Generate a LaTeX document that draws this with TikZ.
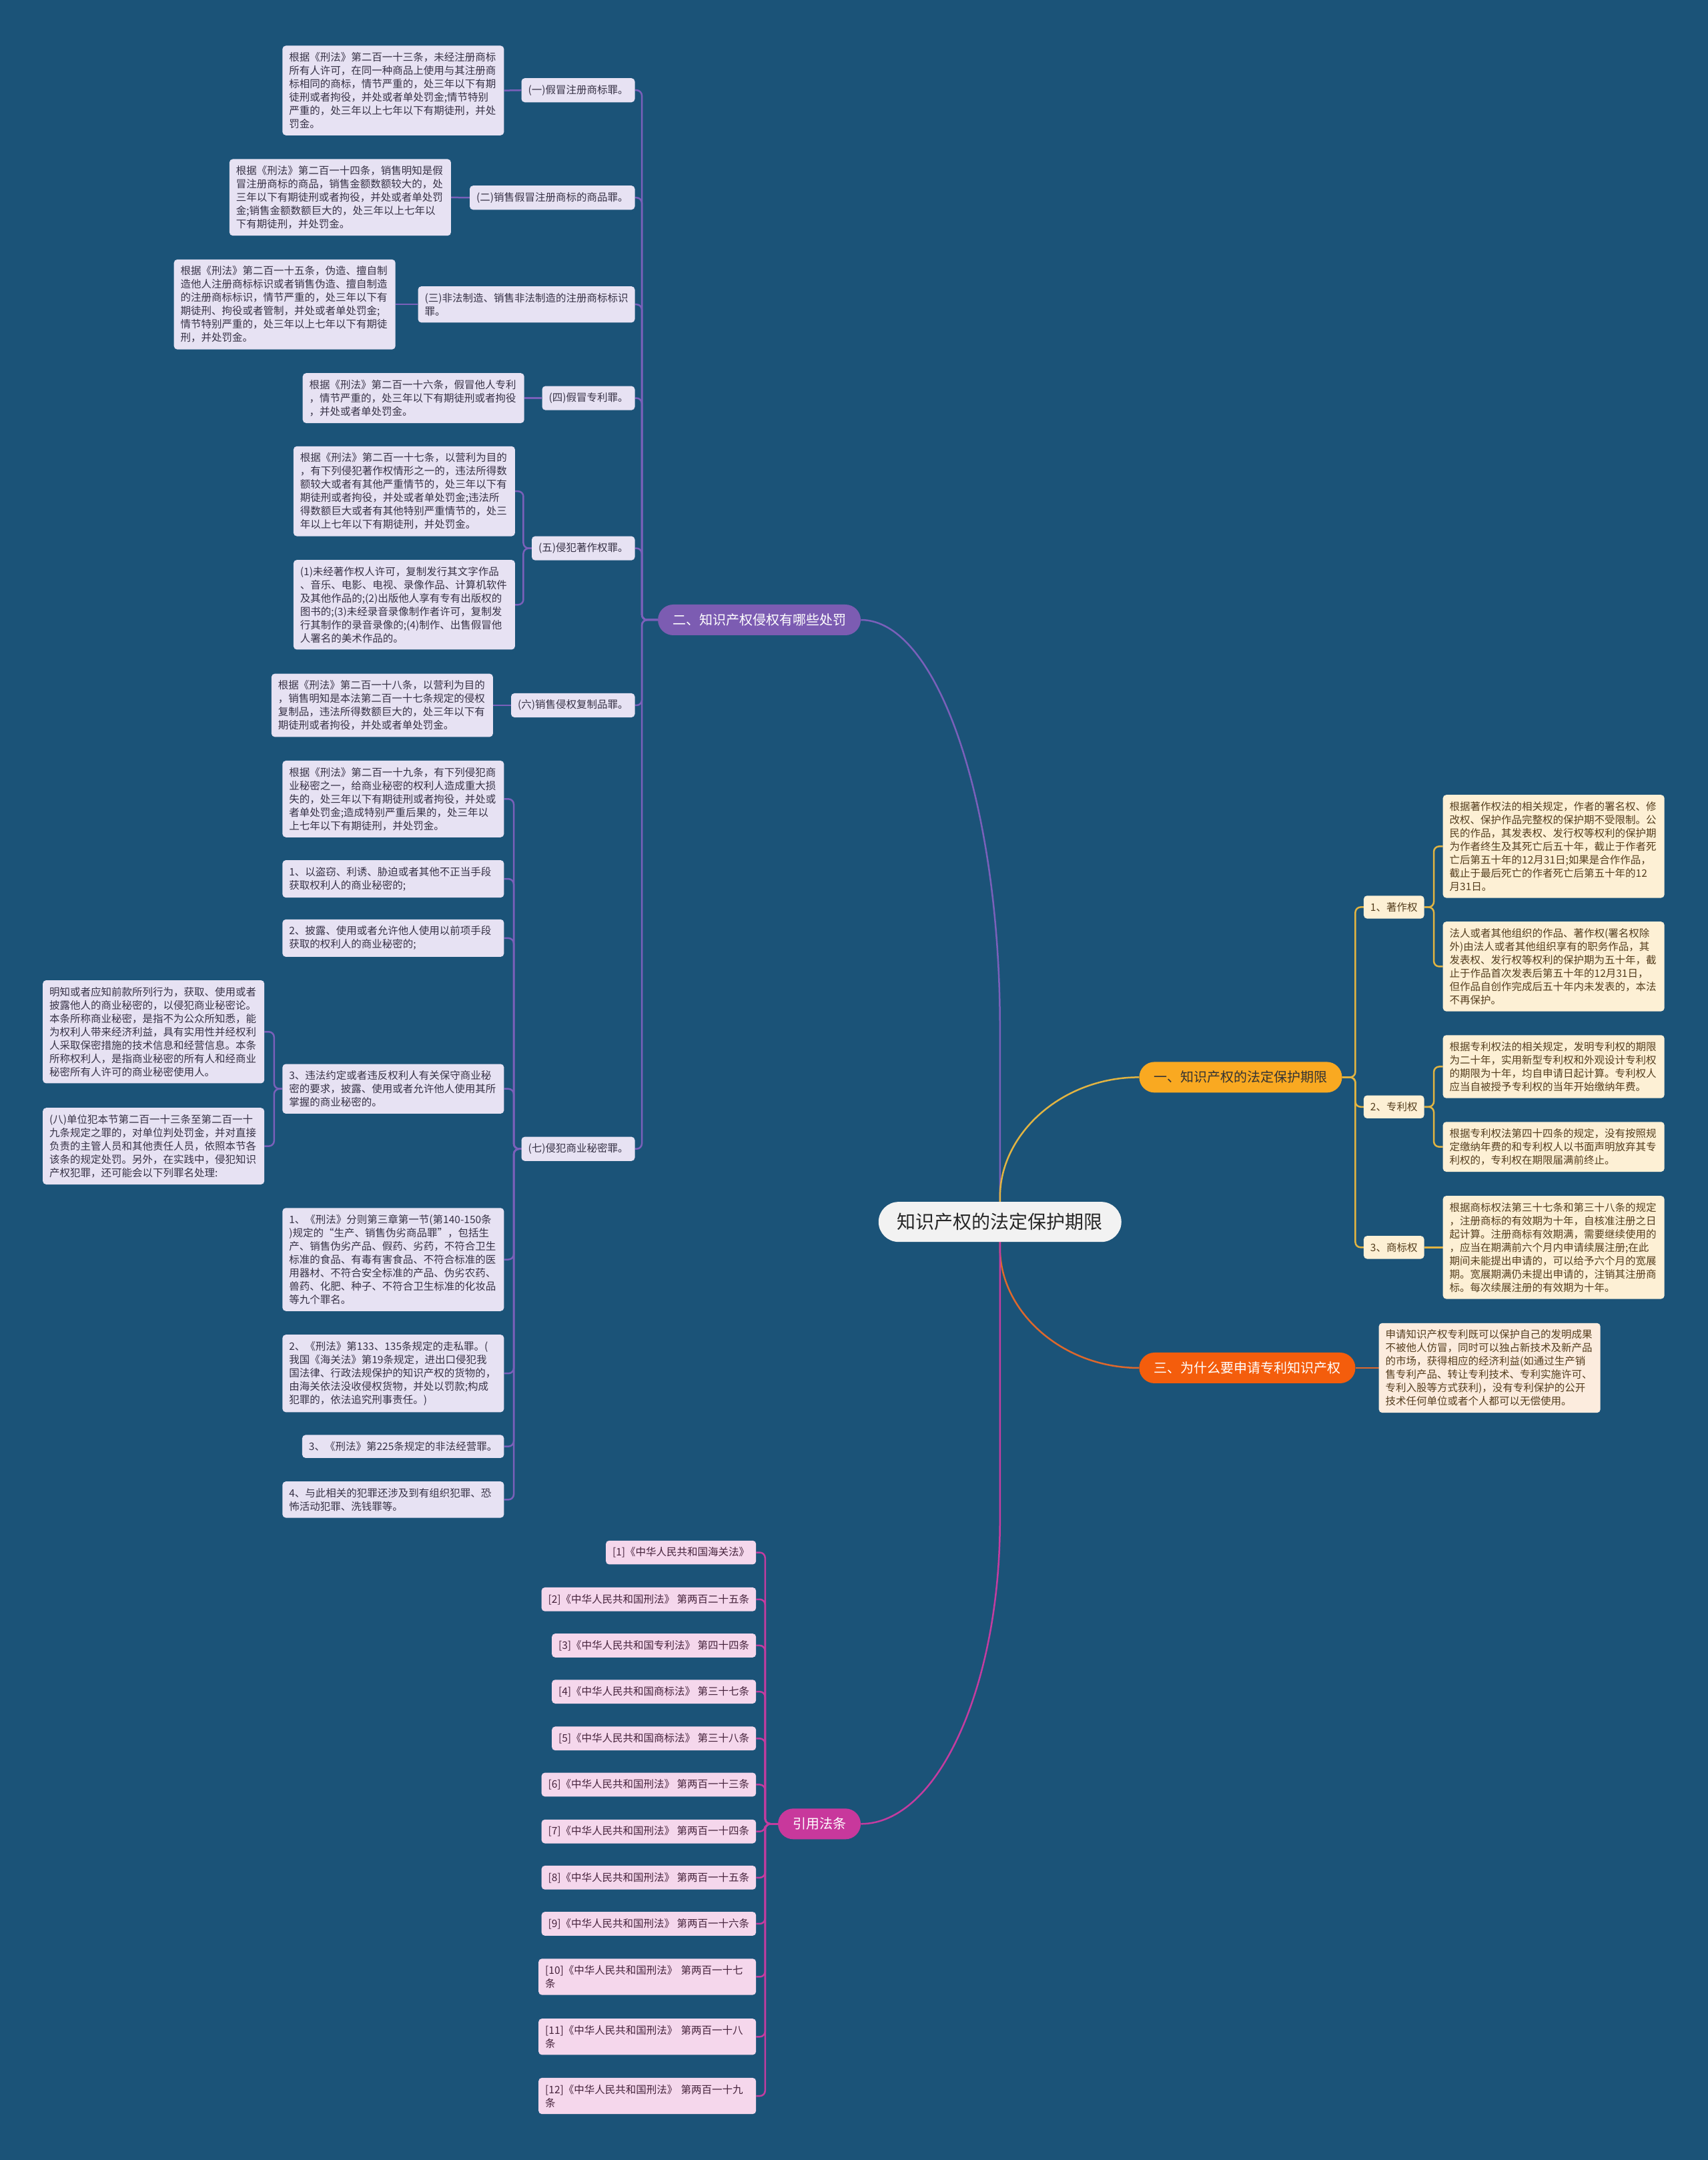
\documentclass[tikz,border=0pt]{standalone}
\usepackage{fontspec}
\setmainfont{Noto Sans CJK SC}
\usetikzlibrary{backgrounds}
\definecolor{bgc}{RGB}{27,83,120}
\definecolor{pfill}{RGB}{231,226,243}
\definecolor{ptxt}{RGB}{55,50,70}
\definecolor{plinec}{RGB}{122,96,186}
\definecolor{pmain}{RGB}{124,92,178}
\definecolor{gfill}{RGB}{249,169,33}
\definecolor{glinec}{RGB}{226,180,66}
\definecolor{cfill}{RGB}{253,240,213}
\definecolor{ctxt}{RGB}{85,62,30}
\definecolor{ofill}{RGB}{244,93,12}
\definecolor{olinec}{RGB}{222,104,44}
\definecolor{ocream}{RGB}{252,236,222}
\definecolor{mfill}{RGB}{200,56,156}
\definecolor{mlinec}{RGB}{196,60,160}
\definecolor{mleaf}{RGB}{245,215,236}
\definecolor{mtxt}{RGB}{70,35,60}
\definecolor{rootfill}{RGB}{242,242,242}
\newcommand\myfs{\fontsize{15.5pt}{20pt}\selectfont}
\tikzset{
  box/.style={rounded corners=5pt, inner xsep=10pt, inner ysep=10pt, align=left, font=\myfs},
  pbox/.style={box, fill=pfill, text=ptxt},
  pleaf/.style={pbox, text width=312pt},
  cbox/.style={box, fill=cfill, text=ctxt},
  cleaf/.style={cbox, text width=312pt},
  oleaf/.style={box, fill=ocream, text=ctxt, text width=312pt},
  mbox/.style={box, fill=mleaf, text=mtxt},
  mwide/.style={mbox, text width=306pt},
  pill/.style={rounded corners=23pt, minimum height=46pt, inner xsep=22pt, inner ysep=0pt, font=\fontsize{20pt}{24pt}\selectfont},
  pl/.style={draw=plinec, line width=2.5pt, rounded corners=8pt},
  gl/.style={draw=glinec, line width=2.5pt, rounded corners=8pt},
  ol/.style={draw=olinec, line width=2.5pt, rounded corners=8pt},
  ml/.style={draw=mlinec, line width=2.5pt, rounded corners=8pt}
}
\begin{document}
\begin{tikzpicture}[x=2.0645pt,y=-2.0645pt]
\useasboundingbox (0,0) rectangle (1240,1568);

% root and main branches
\node[fill=rootfill, text=black!85, rounded corners=30pt, minimum height=60pt, inner xsep=28pt, inner ysep=0pt, font=\fontsize{28pt}{32pt}\selectfont] (root) at (726,887) {知识产权的法定保护期限};
\node[pill, fill=pmain, text=white, anchor=east] (b2) at (625,450) {二、知识产权侵权有哪些处罚};
\node[pill, fill=gfill, text=black!80, anchor=west] (b1) at (827,782) {一、知识产权的法定保护期限};
\node[pill, fill=ofill, text=white, anchor=west] (b3) at (827,993) {三、为什么要申请专利知识产权};
\node[pill, fill=mfill, text=white, anchor=east] (br) at (625,1324) {引用法条};

% left level 2
\node[pbox, anchor=east] (k1) at (461,65.5) {(一)假冒注册商标罪。};
\node[pbox, anchor=east] (k2) at (461,143.5) {(二)销售假冒注册商标的商品罪。};
\node[pbox, anchor=east] (k3) at (461,221) {(三)非法制造、销售非法制造的注册商标标识\\罪。};
\node[pbox, anchor=east] (k4) at (461,289) {(四)假冒专利罪。};
\node[pbox, anchor=east] (k5) at (461,398) {(五)侵犯著作权罪。};
\node[pbox, anchor=east] (k6) at (461,512) {(六)销售侵权复制品罪。};
\node[pbox, anchor=east] (k7) at (461,834) {(七)侵犯商业秘密罪。};

% left leaves
\node[pleaf, anchor=east] (l1) at (366,65.7) {根据《刑法》第二百一十三条，未经注册商标\\所有人许可，在同一种商品上使用与其注册商\\标相同的商标，情节严重的，处三年以下有期\\徒刑或者拘役，并处或者单处罚金;情节特别\\严重的，处三年以上七年以下有期徒刑，并处\\罚金。};
\node[pleaf, anchor=east] (l2) at (327.5,143.3) {根据《刑法》第二百一十四条，销售明知是假\\冒注册商标的商品，销售金额数额较大的，处\\三年以下有期徒刑或者拘役，并处或者单处罚\\金;销售金额数额巨大的，处三年以上七年以\\下有期徒刑，并处罚金。};
\node[pleaf, anchor=east] (l3) at (287.2,221) {根据《刑法》第二百一十五条，伪造、擅自制\\造他人注册商标标识或者销售伪造、擅自制造\\的注册商标标识，情节严重的，处三年以下有\\期徒刑、拘役或者管制，并处或者单处罚金;\\情节特别严重的，处三年以上七年以下有期徒\\刑，并处罚金。};
\node[pleaf, anchor=east] (l4) at (380.7,289) {根据《刑法》第二百一十六条，假冒他人专利\\，情节严重的，处三年以下有期徒刑或者拘役\\，并处或者单处罚金。};
\node[pleaf, anchor=east] (l5a) at (374,356.6) {根据《刑法》第二百一十七条，以营利为目的\\，有下列侵犯著作权情形之一的，违法所得数\\额较大或者有其他严重情节的，处三年以下有\\期徒刑或者拘役，并处或者单处罚金;违法所\\得数额巨大或者有其他特别严重情节的，处三\\年以上七年以下有期徒刑，并处罚金。};
\node[pleaf, anchor=east] (l5b) at (374,439) {(1)未经著作权人许可，复制发行其文字作品\\、音乐、电影、电视、录像作品、计算机软件\\及其他作品的;(2)出版他人享有专有出版权的\\图书的;(3)未经录音录像制作者许可，复制发\\行其制作的录音录像的;(4)制作、出售假冒他\\人署名的美术作品的。};
\node[pleaf, anchor=east] (l6) at (358,512) {根据《刑法》第二百一十八条，以营利为目的\\，销售明知是本法第二百一十七条规定的侵权\\复制品，违法所得数额巨大的，处三年以下有\\期徒刑或者拘役，并处或者单处罚金。};
\node[pleaf, anchor=east] (l7a) at (366,580) {根据《刑法》第二百一十九条，有下列侵犯商\\业秘密之一，给商业秘密的权利人造成重大损\\失的，处三年以下有期徒刑或者拘役，并处或\\者单处罚金;造成特别严重后果的，处三年以\\上七年以下有期徒刑，并处罚金。};
\node[pleaf, anchor=east] (l7b) at (366,638) {1、以盗窃、利诱、胁迫或者其他不正当手段\\获取权利人的商业秘密的;};
\node[pleaf, anchor=east] (l7c) at (366,681) {2、披露、使用或者允许他人使用以前项手段\\获取的权利人的商业秘密的;};
\node[pleaf, anchor=east] (l7d) at (366,790.4) {3、违法约定或者违反权利人有关保守商业秘\\密的要求，披露、使用或者允许他人使用其所\\掌握的商业秘密的。};
\node[pleaf, anchor=east] (l7d1) at (192,749) {明知或者应知前款所列行为，获取、使用或者\\披露他人的商业秘密的，以侵犯商业秘密论。\\本条所称商业秘密，是指不为公众所知悉，能\\为权利人带来经济利益，具有实用性并经权利\\人采取保密措施的技术信息和经营信息。本条\\所称权利人，是指商业秘密的所有人和经商业\\秘密所有人许可的商业秘密使用人。};
\node[pleaf, anchor=east] (l7d2) at (192,832) {(八)单位犯本节第二百一十三条至第二百一十\\九条规定之罪的，对单位判处罚金，并对直接\\负责的主管人员和其他责任人员，依照本节各\\该条的规定处罚。另外，在实践中，侵犯知识\\产权犯罪，还可能会以下列罪名处理:};
\node[pleaf, anchor=east] (l7e) at (366,914.3) {1、《刑法》分则第三章第一节(第140-150条\\)规定的“生产、销售伪劣商品罪”，包括生\\产、销售伪劣产品、假药、劣药，不符合卫生\\标准的食品、有毒有害食品、不符合标准的医\\用器材、不符合安全标准的产品、伪劣农药、\\兽药、化肥、种子、不符合卫生标准的化妆品\\等九个罪名。};
\node[pleaf, anchor=east] (l7f) at (366,997) {2、《刑法》第133、135条规定的走私罪。(\\我国《海关法》第19条规定，进出口侵犯我\\国法律、行政法规保护的知识产权的货物的，\\由海关依法没收侵权货物，并处以罚款;构成\\犯罪的，依法追究刑事责任。)};
\node[pbox, anchor=east] (l7g) at (366,1050) {3、《刑法》第225条规定的非法经营罪。};
\node[pleaf, anchor=east] (l7h) at (366,1088.6) {4、与此相关的犯罪还涉及到有组织犯罪、恐\\怖活动犯罪、洗钱罪等。};

% right side
\node[cbox, anchor=west] (r1) at (990,658.5) {1、著作权};
\node[cbox, anchor=west] (r2) at (990,803.5) {2、专利权};
\node[cbox, anchor=west] (r3) at (990,905.5) {3、商标权};
\node[cleaf, anchor=west] (r1a) at (1047.5,614.4) {根据著作权法的相关规定，作者的署名权、修\\改权、保护作品完整权的保护期不受限制。公\\民的作品，其发表权、发行权等权利的保护期\\为作者终生及其死亡后五十年，截止于作者死\\亡后第五十年的12月31日;如果是合作作品，\\截止于最后死亡的作者死亡后第五十年的12\\月31日。};
\node[cleaf, anchor=west] (r1b) at (1047.5,701.6) {法人或者其他组织的作品、著作权(署名权除\\外)由法人或者其他组织享有的职务作品，其\\发表权、发行权等权利的保护期为五十年，截\\止于作品首次发表后第五十年的12月31日，\\但作品自创作完成后五十年内未发表的，本法\\不再保护。};
\node[cleaf, anchor=west] (r2a) at (1047.5,774.3) {根据专利权法的相关规定，发明专利权的期限\\为二十年，实用新型专利权和外观设计专利权\\的期限为十年，均自申请日起计算。专利权人\\应当自被授予专利权的当年开始缴纳年费。};
\node[cleaf, anchor=west] (r2b) at (1047.5,832.5) {根据专利权法第四十四条的规定，没有按照规\\定缴纳年费的和专利权人以书面声明放弃其专\\利权的，专利权在期限届满前终止。};
\node[cleaf, anchor=west] (r3a) at (1047.5,905.5) {根据商标权法第三十七条和第三十八条的规定\\，注册商标的有效期为十年，自核准注册之日\\起计算。注册商标有效期满，需要继续使用的\\，应当在期满前六个月内申请续展注册;在此\\期间未能提出申请的，可以给予六个月的宽展\\期。宽展期满仍未提出申请的，注销其注册商\\标。每次续展注册的有效期为十年。};
\node[oleaf, anchor=west] (r4) at (1001,993) {申请知识产权专利既可以保护自己的发明成果\\不被他人仿冒，同时可以独占新技术及新产品\\的市场，获得相应的经济利益(如通过生产销\\售专利产品、转让专利技术、专利实施许可、\\专利入股等方式获利)，没有专利保护的公开\\技术任何单位或者个人都可以无偿使用。};

% references
\node[mbox, anchor=east] (f1) at (549,1127) {[1]《中华人民共和国海关法》};
\node[mbox, anchor=east] (f2) at (549,1161) {[2]《中华人民共和国刑法》 第两百二十五条};
\node[mbox, anchor=east] (f3) at (549,1194.5) {[3]《中华人民共和国专利法》 第四十四条};
\node[mbox, anchor=east] (f4) at (549,1228) {[4]《中华人民共和国商标法》 第三十七条};
\node[mbox, anchor=east] (f5) at (549,1262) {[5]《中华人民共和国商标法》 第三十八条};
\node[mbox, anchor=east] (f6) at (549,1295.5) {[6]《中华人民共和国刑法》 第两百一十三条};
\node[mbox, anchor=east] (f7) at (549,1329.5) {[7]《中华人民共和国刑法》 第两百一十四条};
\node[mbox, anchor=east] (f8) at (549,1363) {[8]《中华人民共和国刑法》 第两百一十五条};
\node[mbox, anchor=east] (f9) at (549,1396.5) {[9]《中华人民共和国刑法》 第两百一十六条};
\node[mwide, anchor=east] (f10) at (549,1435) {[10]《中华人民共和国刑法》 第两百一十七\\条};
\node[mwide, anchor=east] (f11) at (549,1478.5) {[11]《中华人民共和国刑法》 第两百一十八\\条};
\node[mwide, anchor=east] (f12) at (549,1521.5) {[12]《中华人民共和国刑法》 第两百一十九\\条};

\begin{scope}[on background layer]
\fill[bgc] (0,0) rectangle (1240,1568);
% main curves
\draw[pl] (root.center) -- (726,750) .. controls (726,584) and (681,450) .. (b2.east);
\draw[gl] (root.center) -- (726,873) .. controls (726,823) and (771,782) .. (b1.west);
\draw[ol] (root.center) -- (726,902) .. controls (726,952) and (771,993) .. (b3.west);
\draw[ml] (root.center) -- (726,1100) .. controls (726,1224) and (681,1324) .. (br.east);
% branch two
\foreach \n in {k1,k2,k3,k4,k5,k6,k7} \draw[pl] (b2.west) -- (466,450) |- (\n.east);
\draw[pl] (k1.west) -- (l1.east);
\draw[pl] (k2.west) -- (l2.east);
\draw[pl] (k3.west) -- (l3.east);
\draw[pl] (k4.west) -- (l4.east);
\draw[pl] (k6.west) -- (l6.east);
\foreach \n in {l5a,l5b} \draw[pl] (k5.west) -- (380,398) |- (\n.east);
\foreach \n in {l7a,l7b,l7c,l7d,l7e,l7f,l7g,l7h} \draw[pl] (k7.west) -- (373,834) |- (\n.east);
\foreach \n in {l7d1,l7d2} \draw[pl] (l7d.west) -- (199,790.4) |- (\n.east);
% branch one
\foreach \n in {r1,r2,r3} \draw[gl] (b1.east) -- (984,782) |- (\n.west);
\foreach \n in {r1a,r1b} \draw[gl] (r1.east) -- (1041,658.5) |- (\n.west);
\foreach \n in {r2a,r2b} \draw[gl] (r2.east) -- (1041,803.5) |- (\n.west);
\draw[gl] (r3.east) -- (r3a.west);
% branch three
\draw[ol] (b3.east) -- (r4.west);
% references
\foreach \n in {f1,f2,f3,f4,f5,f6,f7,f8,f9,f10,f11,f12} \draw[ml] (br.west) -- (555.5,1324) |- (\n.east);
\end{scope}
\end{tikzpicture}
\end{document}
